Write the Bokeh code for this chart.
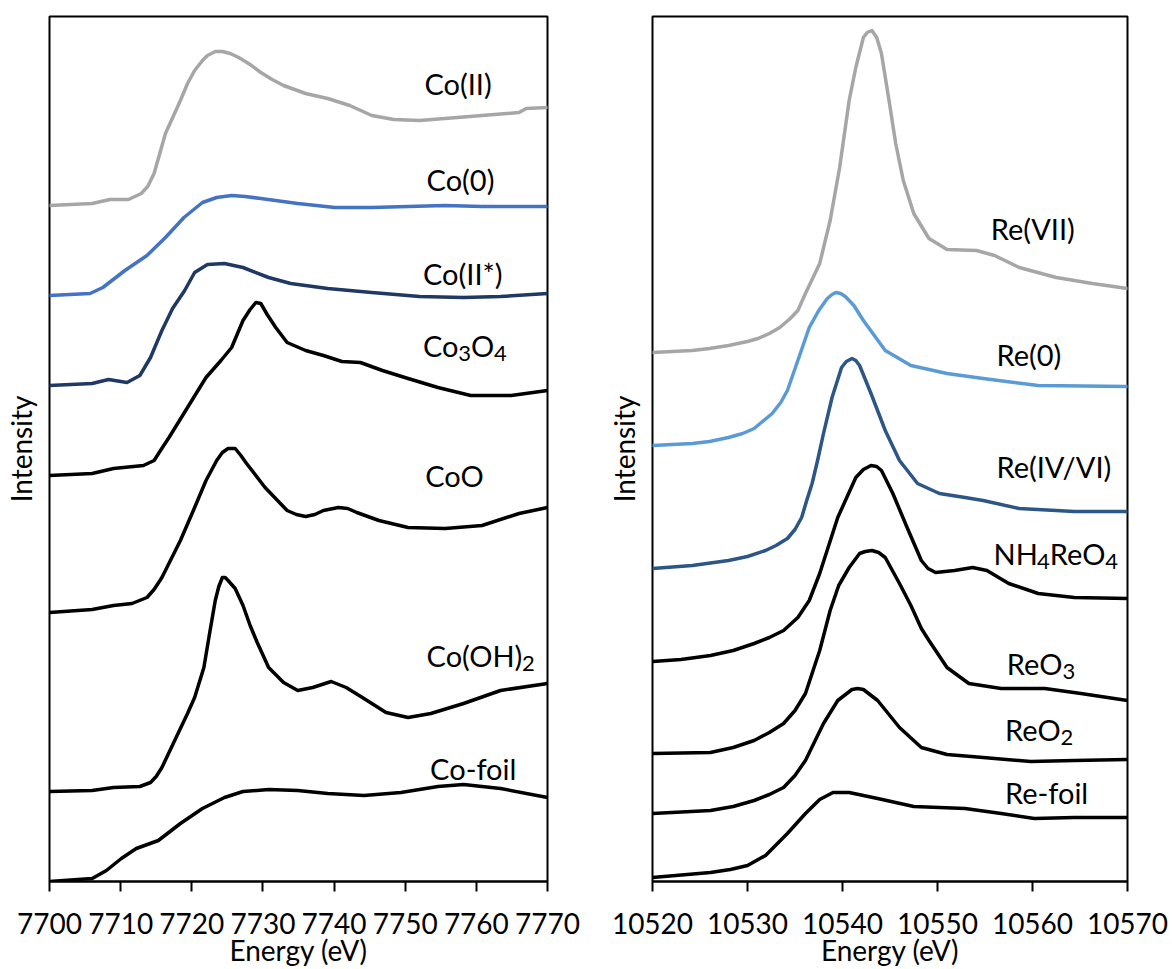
from bokeh.plotting import figure
from bokeh.layouts import row
from bokeh.models import Range1d, FixedTicker
from bokeh.core.properties import value
from bokeh.embed import file_html
from bokeh.resources import INLINE

# ---------------- Co K-edge (left panel) ----------------
co_ii_e = [7700, 7706, 7708.5, 7711.1, 7712.9, 7713.8, 7714.7, 7716.3, 7718.4, 7719.4, 7720.4, 7721.5,
           7722.2, 7723.3, 7724.3, 7725.4, 7726.6, 7728.2, 7729.7, 7731.3, 7732.9, 7736, 7739.1, 7742.2,
           7745.3, 7748.4, 7752, 7755.6, 7760.8, 7766, 7767, 7770]
co_ii_i = [6.76, 6.78, 6.82, 6.82, 6.88, 6.95, 7.08, 7.48, 7.81, 7.98, 8.11, 8.21,
           8.26, 8.30, 8.30, 8.28, 8.24, 8.17, 8.09, 8.02, 7.96, 7.88, 7.83, 7.76,
           7.66, 7.62, 7.61, 7.63, 7.66, 7.69, 7.73, 7.74]

co_0_e = [7700, 7705.7, 7707.5, 7710.6, 7713.7, 7716.3, 7718.9, 7721.5, 7723.5, 7725.6, 7727.5, 7729.7,
          7734.9, 7740.1, 7745.3, 7750.4, 7755.6, 7760.8, 7770]
co_0_i = [5.86, 5.88, 5.94, 6.11, 6.26, 6.44, 6.64, 6.79, 6.84, 6.86, 6.85, 6.83,
          6.78, 6.74, 6.74, 6.75, 6.76, 6.75, 6.75]

co_iis_e = [7700, 7706, 7708.3, 7710.9, 7712.7, 7714.2, 7715.8, 7717.3, 7719, 7720.4, 7722.2, 7724.6,
            7727.2, 7730.8, 7733.9, 7739.1, 7745.3, 7752, 7758.2, 7763.4, 7770]
co_iis_i = [4.96, 4.98, 5.02, 4.99, 5.06, 5.24, 5.51, 5.73, 5.91, 6.09, 6.17, 6.18,
            6.14, 6.04, 5.98, 5.93, 5.89, 5.85, 5.84, 5.85, 5.88]

co3o4_e = [7700, 7706, 7709, 7713.2, 7714.7, 7715.6, 7716.8, 7719.4, 7722, 7724.1, 7725.6, 7727.2, 7728.2,
           7729, 7729.7, 7730.6, 7731.8, 7733.4, 7736, 7738.5, 7741.1, 7743.7, 7746.8, 7750.4, 7754.6,
           7759.2, 7764.9, 7770]
co3o4_i = [4.06, 4.08, 4.13, 4.16, 4.21, 4.31, 4.44, 4.74, 5.04, 5.21, 5.34, 5.61, 5.72,
           5.79, 5.78, 5.67, 5.54, 5.39, 5.31, 5.26, 5.20, 5.19, 5.11, 5.03, 4.94,
           4.86, 4.86, 4.91]

coo_e = [7700, 7706, 7709, 7711.6, 7713.7, 7714.7, 7715.8, 7718.4, 7720.4, 7722, 7723.5, 7724.3, 7725.1,
         7726.1, 7726.9, 7727.7, 7730.3, 7733.4, 7734.7, 7736, 7737.3, 7738.5, 7740.6, 7741.9, 7743.2,
         7746.3, 7750.4, 7755.6, 7760.8, 7766, 7770]
coo_i = [2.69, 2.72, 2.76, 2.78, 2.84, 2.92, 3.04, 3.41, 3.74, 4.01, 4.21, 4.29, 4.33,
         4.33, 4.26, 4.18, 3.94, 3.71, 3.67, 3.65, 3.67, 3.71, 3.74, 3.73, 3.69,
         3.61, 3.54, 3.53, 3.56, 3.68, 3.74]

cooh2_e = [7700, 7706, 7709, 7712.7, 7714.2, 7715, 7715.8, 7717.8, 7719.4, 7720.4, 7721.7, 7722.5,
           7723.3, 7723.8, 7724.3, 7724.7, 7725.1, 7726.1, 7727.2, 7728.2, 7729.2, 7730.8, 7732.9,
           7734.9, 7737, 7739.6, 7741.7, 7744.2, 7747.3, 7750.4, 7753.6, 7758.2, 7763.4, 7770]
cooh2_i = [0.90, 0.91, 0.94, 0.95, 0.99, 1.05, 1.14, 1.44, 1.68, 1.84, 2.14, 2.48,
           2.81, 2.95, 3.04, 3.04, 3.01, 2.93, 2.76, 2.56, 2.39, 2.14, 1.99,
           1.91, 1.94, 2.00, 1.94, 1.83, 1.69, 1.64, 1.68, 1.78, 1.91, 1.98]

cofoil_e = [7700, 7706, 7708, 7710.1, 7712.2, 7715.3, 7718.4, 7721.5, 7724.6, 7727.2, 7730.8, 7734.9,
            7739.1, 7744.2, 7749.4, 7754.6, 7758.2, 7763.4, 7770]
cofoil_i = [0.00, 0.03, 0.11, 0.23, 0.33, 0.41, 0.58, 0.73, 0.84, 0.90, 0.92, 0.91,
            0.88, 0.86, 0.89, 0.95, 0.97, 0.93, 0.84]

co_ticks = [7700, 7710, 7720, 7730, 7740, 7750, 7760, 7770]

# ---------------- Re L3-edge (right panel) ----------------
re_vii_e = [10520, 10524.2, 10526, 10528, 10530, 10531.1, 10532.3, 10533.4, 10534.5, 10535.3, 10536.1,
            10537.6, 10538.7, 10539.7, 10540.7, 10541.4, 10542.2, 10542.6, 10543.1, 10543.6, 10544.1,
            10544.9, 10545.6, 10546.4, 10547.5, 10549.1, 10551, 10554.1, 10556, 10558.6, 10562.5,
            10566.3, 10570]
re_vii_i = [5.29, 5.31, 5.33, 5.36, 5.40, 5.43, 5.48, 5.54, 5.63, 5.71, 5.88,
            6.18, 6.61, 7.14, 7.81, 8.14, 8.44, 8.49, 8.51, 8.44, 8.28,
            7.81, 7.38, 7.01, 6.68, 6.43, 6.32, 6.31, 6.26, 6.14, 6.04,
            5.98, 5.93]

re_0_e = [10520, 10524.2, 10526, 10528, 10529.5, 10530.7, 10532.6, 10533.5, 10534.2, 10535.3, 10536.5,
          10537.5, 10538.4, 10538.9, 10539.3, 10539.8, 10540.3, 10541.2, 10542.2, 10544.5, 10547.2,
          10551, 10554.8, 10560.6, 10570]
re_0_i = [4.36, 4.38, 4.40, 4.44, 4.48, 4.53, 4.68, 4.79, 4.91, 5.21, 5.54,
          5.71, 5.83, 5.87, 5.89, 5.88, 5.85, 5.76, 5.61, 5.31, 5.16,
          5.08, 5.03, 4.96, 4.95]

re_ivvi_e = [10520, 10524.2, 10528, 10530, 10531.9, 10533, 10534.2, 10535, 10535.7, 10536.2, 10536.8,
             10537.4, 10538, 10538.9, 10539.9, 10540.4, 10541, 10541.4, 10541.8, 10543, 10544.5, 10546,
             10547.9, 10550.2, 10552.9, 10554.8, 10558.6, 10564.4, 10570]
re_ivvi_i = [3.13, 3.16, 3.21, 3.25, 3.31, 3.36, 3.43, 3.52, 3.64, 3.80, 3.98,
             4.22, 4.48, 4.84, 5.14, 5.20, 5.23, 5.21, 5.16, 4.88, 4.51, 4.21,
             3.98, 3.88, 3.84, 3.81, 3.73, 3.70, 3.70]

nh4reo4_e = [10520, 10523, 10526.1, 10528.5, 10530.7, 10532.3, 10533.8, 10535.3, 10536.5, 10537.6,
             10539.5, 10541.4, 10542.2, 10543, 10543.6, 10544.1, 10545.3, 10546.8, 10548.3, 10549,
             10549.8, 10551.8, 10553.7, 10555.2, 10557.5, 10560.6, 10564.4, 10570]
nh4reo4_i = [2.20, 2.22, 2.26, 2.31, 2.38, 2.44, 2.51, 2.64, 2.81, 3.08,
             3.64, 4.04, 4.12, 4.16, 4.15, 4.11, 3.88, 3.54, 3.21, 3.13,
             3.09, 3.11, 3.14, 3.11, 2.98, 2.88, 2.84, 2.83]

reo3_e = [10520, 10526.1, 10528.5, 10530.7, 10532.3, 10533.8, 10535, 10536.1, 10537.6, 10538.7, 10539.6,
          10540.7, 10541.8, 10542.4, 10543.1, 10543.8, 10544.5, 10546, 10547.2, 10548.3, 10549.1, 10551,
          10553.3, 10556.7, 10561.3, 10565.1, 10570]
reo3_i = [1.28, 1.29, 1.34, 1.41, 1.49, 1.58, 1.71, 1.88, 2.31, 2.71, 2.96,
          3.14, 3.28, 3.30, 3.31, 3.29, 3.24, 2.98, 2.76, 2.53, 2.41, 2.14,
          1.98, 1.93, 1.93, 1.88, 1.81]

reo2_e = [10520, 10526.1, 10528.5, 10530.7, 10532.3, 10533.8, 10535, 10536.1, 10538, 10539.5, 10541,
          10541.6, 10542.2, 10543.7, 10546, 10548.3, 10551, 10554.8, 10559.8, 10564.4, 10570]
reo2_i = [0.68, 0.71, 0.75, 0.81, 0.87, 0.94, 1.06, 1.21, 1.58, 1.81, 1.92,
          1.93, 1.92, 1.81, 1.54, 1.34, 1.27, 1.24, 1.20, 1.21, 1.22]

refoil_e = [10520, 10526.1, 10528.2, 10530, 10531.9, 10534.2, 10536.1, 10537.6, 10539, 10540.7, 10543.7,
            10547.5, 10552.9, 10556.7, 10560.2, 10564.4, 10570]
refoil_i = [0.04, 0.09, 0.12, 0.16, 0.26, 0.48, 0.68, 0.82, 0.89, 0.89, 0.83,
            0.75, 0.73, 0.68, 0.63, 0.64, 0.64]

re_ticks = [10520, 10530, 10540, 10550, 10560, 10570]

# series names; "_" marks the following digit as a subscript
co_names = ["Co(II)", "Co(0)", "Co(II*)", "Co_3O_4", "CoO", "Co(OH)_2", "Co-foil"]
re_names = ["Re(VII)", "Re(0)", "Re(IV/VI)", "NH_4ReO_4", "ReO_3", "ReO_2", "Re-foil"]

# ---------------- styling ----------------
GRAY = "#A6A6A6"
FONT = "Lato"
TICK_SIZE = 28
LABEL_SIZE = 29
SUB_SIZE = 22
SUB_DROP = 8

# approximate Lato advance widths (per 2000 units/em), used to place subscript pieces
LATO_W = {"C": 1330, "o": 1100, "(": 540, ")": 540, "O": 1580, "H": 1500, "N": 1500,
          "R": 1220, "e": 1030, "0": 1160, "2": 1160, "3": 1160, "4": 1160}

co_style = [
    (GRAY, 7752.7, 7.98),
    ("#4472C4", 7753.0, 7.02),
    ("#1F3864", 7752.5, 6.08),
    ("black", 7752.5, 5.36),
    ("black", 7752.8, 4.06),
    ("black", 7753.0, 2.26),
    ("black", 7753.5, 1.13),
]
re_style = [
    (GRAY, 10555.6, 6.53),
    ("#5B9BD5", 10556.2, 5.27),
    ("#2C5685", 10556.2, 4.15),
    ("black", 10555.9, 3.28),
    ("black", 10557.3, 2.18),
    ("black", 10557.1, 1.52),
    ("black", 10557.1, 0.89),
]


def pieces(name):
    """Split a name with '_' subscripts into (text, x_offset_px, y_offset_px, size_px)."""
    out = []
    xoff = 0.0
    buf = ""
    i = 0
    while i < len(name):
        ch = name[i]
        if ch == "_":
            if buf:
                out.append((buf, xoff, 0, LABEL_SIZE))
                xoff += sum(LATO_W.get(c, 1100) for c in buf) / 2000 * LABEL_SIZE
                buf = ""
            d = name[i + 1]
            out.append((d, xoff, SUB_DROP, SUB_SIZE))
            xoff += LATO_W.get(d, 1160) / 2000 * SUB_SIZE
            i += 2
            continue
        buf += ch
        i += 1
    if buf:
        out.append((buf, xoff, 0, LABEL_SIZE))
    return out


def make_panel(curves, names, styles, ticks, width, border_left, border_right):
    p = figure(width=width, height=969, output_backend="svg", toolbar_location=None,
               x_range=Range1d(ticks[0], ticks[-1]), y_range=Range1d(0, 8.65),
               min_border_left=border_left, min_border_right=border_right,
               min_border_top=16, min_border_bottom=88)
    p.grid.visible = False
    p.background_fill_color = "white"
    p.border_fill_color = "white"
    p.outline_line_color = "black"
    p.outline_line_width = 2

    for (xs, ys), name, (color, lx, ly) in zip(curves, names, styles):
        p.line(xs, ys, line_color=color, line_width=3.5, line_join="round", line_cap="round")
        for txt, dx, dy, size in pieces(name):
            p.text(x=[lx], y=[ly], text=[txt], x_offset=dx, y_offset=dy,
                   text_font=value(FONT), text_font_size=value(f"{size}px"),
                   text_color="black", text_align="left", text_baseline="alphabetic")

    xa = p.xaxis[0]
    xa.ticker = FixedTicker(ticks=ticks)
    xa.minor_tick_line_color = None
    xa.major_tick_in = 0
    xa.major_tick_out = 10
    xa.major_tick_line_width = 2
    xa.major_tick_line_color = "black"
    xa.axis_line_color = "black"
    xa.axis_line_width = 2
    xa.major_label_text_font = FONT
    xa.major_label_text_font_size = f"{TICK_SIZE}px"
    xa.major_label_text_color = "black"
    xa.major_label_standoff = 21
    xa.axis_label = "Energy (eV)"
    xa.axis_label_text_font = FONT
    xa.axis_label_text_font_size = f"{TICK_SIZE}px"
    xa.axis_label_text_font_style = "normal"
    xa.axis_label_text_color = "black"
    xa.axis_label_standoff = -4

    ya = p.yaxis[0]
    ya.ticker = FixedTicker(ticks=[])
    ya.minor_tick_line_color = None
    ya.major_tick_line_color = None
    ya.axis_line_color = None
    ya.axis_label = "Intensity"
    ya.axis_label_text_font = FONT
    ya.axis_label_text_font_size = f"{TICK_SIZE}px"
    ya.axis_label_text_font_style = "normal"
    ya.axis_label_text_color = "black"
    ya.axis_label_standoff = 12
    return p


co_curves = [(co_ii_e, co_ii_i), (co_0_e, co_0_i), (co_iis_e, co_iis_i), (co3o4_e, co3o4_i),
             (coo_e, coo_i), (cooh2_e, cooh2_i), (cofoil_e, cofoil_i)]
re_curves = [(re_vii_e, re_vii_i), (re_0_e, re_0_i), (re_ivvi_e, re_ivvi_i), (nh4reo4_e, nh4reo4_i),
             (reo3_e, reo3_i), (reo2_e, reo2_i), (refoil_e, refoil_i)]

p1 = make_panel(co_curves, co_names, co_style, co_ticks, 600, 46, 53)
p2 = make_panel(re_curves, re_names, re_style, re_ticks, 572, 52, 45)

layout = row(p1, p2)
open("out.html", "w").write(file_html(layout, INLINE))
